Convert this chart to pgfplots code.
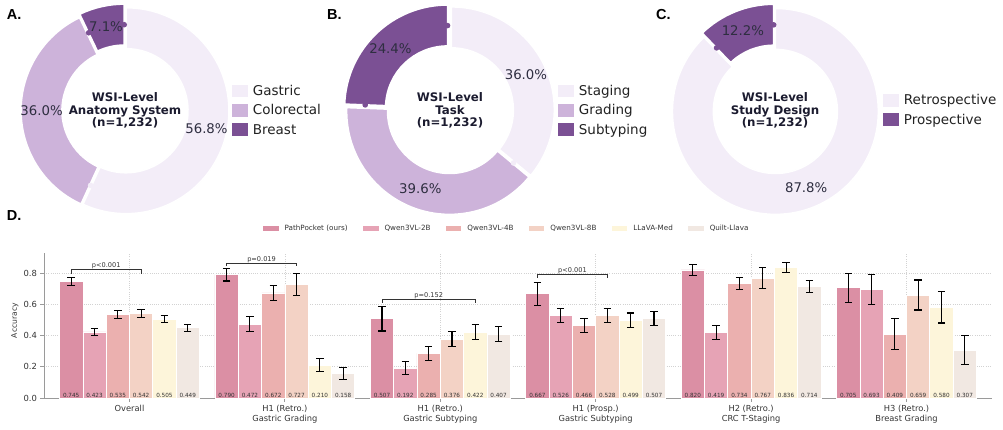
\documentclass[border=0pt]{standalone}
\usepackage{fontspec}
\setmainfont{DejaVu Sans}
\newfontfamily\panelfont{Liberation Sans}
\usepackage{pgfplots}
\pgfplotsset{compat=1.18}
\usepackage{pgfplotstable}
\pgfkeys{/pgf/number format/assume math mode=true}

\newcommand\fs[2]{\fontsize{#1}{#2}\selectfont}

% donut palette
\definecolor{lavA}{HTML}{F3EDF8}
\definecolor{lavB}{HTML}{CDB3DA}
\definecolor{lavC}{HTML}{7B5094}
\definecolor{pcttext}{HTML}{2E2E40}
\definecolor{titletext}{HTML}{1B1B2F}
\definecolor{legtext}{HTML}{222222}
% bar palette
\definecolor{cPP}{HTML}{DB8FA4}
\definecolor{cQtwo}{HTML}{E6A3B5}
\definecolor{cQfour}{HTML}{EBB0AF}
\definecolor{cQeight}{HTML}{F3D2C5}
\definecolor{cLM}{HTML}{FDF5DA}
\definecolor{cQL}{HTML}{F1E8E2}
\definecolor{axgray}{HTML}{9A9A9A}
\definecolor{txt}{HTML}{333333}

% accuracy and error half-width per task (0 Overall ... 5 H3)
\pgfplotstableread{
x acc err
0 0.745 0.027
1 0.790 0.041
2 0.507 0.078
3 0.667 0.075
4 0.820 0.035
5 0.705 0.094
}\tblPP
\pgfplotstableread{
x acc err
0 0.423 0.022
1 0.472 0.049
2 0.192 0.040
3 0.526 0.045
4 0.419 0.045
5 0.693 0.095
}\tblQtwo
\pgfplotstableread{
x acc err
0 0.535 0.024
1 0.672 0.046
2 0.285 0.046
3 0.466 0.045
4 0.734 0.040
5 0.409 0.100
}\tblQfour
\pgfplotstableread{
x acc err
0 0.542 0.027
1 0.727 0.071
2 0.376 0.047
3 0.528 0.045
4 0.767 0.067
5 0.659 0.096
}\tblQeight
\pgfplotstableread{
x acc err
0 0.505 0.024
1 0.210 0.042
2 0.422 0.047
3 0.499 0.045
4 0.836 0.034
5 0.580 0.100
}\tblLM
\pgfplotstableread{
x acc err
0 0.449 0.023
1 0.158 0.037
2 0.407 0.048
3 0.507 0.045
4 0.714 0.040
5 0.307 0.095
}\tblQL

% ring geometry (pt)
\def\Ro{103}
\def\Ri{62}
\def\Rw{41}
\def\Rp{82.4}

% one ring segment: start angle, end angle, explode offset, colour
\newcommand\donutwedge[4]{%
  \pgfmathsetmacro\wmid{(#1+#2)/2}%
  \edef\wcmd{\noexpand\fill[#4, draw=white, line width=1.6pt]
    ([shift={(\wmid:#3pt)}]axis cs:0,0) ++(#1:\Ro pt)
    arc[start angle=#1, end angle=#2, radius=\Ro pt]
    -- ++(#2:-\Rw pt)
    arc[start angle=#2, end angle=#1, radius=\Ri pt] -- cycle;}%
  \wcmd}
% percentage label in the middle of a segment
\newcommand\donutlabel[4]{%
  \pgfmathsetmacro\wmid{(#1+#2)/2}%
  \pgfmathsetmacro\wrad{\Rp+#3}%
  \edef\wcmd{\noexpand\node[font=\noexpand\fs{13.3}{14}, text=pcttext, inner sep=0pt]
    at ([shift={(\wmid:\wrad pt)}]axis cs:0,0) {\unexpanded{#4}};}%
  \wcmd}
% small round knob on a segment boundary
\newcommand\donutdot[4]{%
  \edef\wcmd{\noexpand\fill[#4] ([shift={(#2:#3pt)}]axis cs:0,0) ++(#1:\Rp pt) circle[radius=2.8pt];}%
  \wcmd}

\tikzset{
  centretitle/.style={align=center, font=\bfseries\fs{11.8}{12.2}, text=titletext, inner sep=0pt},
  ptext/.style={anchor=south, inner sep=0pt, yshift=0.4pt, font=\fs{6.6}{7}, text=txt},
}
\pgfplotsset{
  donut/.style={hide axis, x=1pt, y=1pt, xmin=-112, xmax=112, ymin=-112, ymax=112,
    anchor=center, clip=false, legend cell align=left,
    legend style={draw=none, fill=none, inner sep=0pt, anchor=west,
      font=\fs{13.5}{15}, text=legtext, row sep=6.3pt,
      nodes={inner sep=0pt, text height=11.4pt, text depth=1.6pt},
      /tikz/every odd column/.style={column sep=5.6pt}}},
  donutleg/.style={legend image code/.code={\fill[#1] (0pt,-5.85pt) rectangle (15pt,5.85pt);}},
  accbar/.style 2 args={ybar, bar width=0.15, bar shift=#1, fill=#2, draw=white, line width=0.7pt,
    legend image code/.code={\fill[#2] (0pt,-2.4pt) rectangle (14.4pt,2.4pt);}},
  errbar/.style={forget plot, draw=none, mark=none,
    /pgfplots/error bars/y dir=both, /pgfplots/error bars/y explicit,
    /pgfplots/error bars/error bar style={draw=black, line width=1.1pt},
    /pgfplots/error bars/error mark options={rotate=90, draw=black, line width=1.1pt, mark size=3.7pt}},
  acclabel/.style={forget plot, draw=none, mark=none, point meta=explicit,
    nodes near coords={\pgfmathprintnumber[fixed,fixed zerofill,precision=3]{\pgfplotspointmeta}},
    nodes near coords style={anchor=south, inner sep=0.6pt, font=\fs{5.7}{6}, text=txt}},
  bracket/.style={forget plot, mark=none, txt, line width=0.9pt},
}

\begin{document}
\begin{tikzpicture}
% segment boundaries (clockwise from 12 o'clock)
\pgfmathsetmacro\Atot{56.8+36.0+7.1}
\pgfmathsetmacro\Aone{90-360*(56.8/\Atot)}
\pgfmathsetmacro\Atwo{\Aone-360*(36.0/\Atot)}
\pgfmathsetmacro\Btot{36.0+39.6+24.4}
\pgfmathsetmacro\Bone{90-360*(36.0/\Btot)}
\pgfmathsetmacro\Btwo{\Bone-360*(39.6/\Btot)}
\pgfmathsetmacro\Ctot{87.8+12.2}
\pgfmathsetmacro\Cone{90-360*(87.8/\Ctot)}

% ---------------- A: anatomy system
\begin{axis}[donut, at={(125pt,318.5pt)},
  legend style={at={(axis description cs:0.9763,0.5022)}}]
  \donutwedge{90}{\Aone}{1}{lavA}
  \donutwedge{\Aone}{\Atwo}{1}{lavB}
  \donutwedge{\Atwo}{-270}{3.5}{lavC}
  \pgfmathsetmacro\mA{(\Atwo-270)/2}
  \donutdot{90}{\mA}{3.5}{lavC}
  \donutdot{\Atwo}{\mA}{3.5}{lavC}
  \donutdot{\Aone}{0}{0}{lavA}
  \donutlabel{90}{\Aone}{1}{56.8\%}
  \donutlabel{\Aone}{\Atwo}{1}{36.0\%}
  \donutlabel{\Atwo}{-270}{3.5}{7.1\%}
  \node[centretitle] at (axis cs:0,0) {WSI-Level\\Anatomy System\\(n=1,232)};
  \addlegendimage{donutleg=lavA}\addlegendentry{Gastric}
  \addlegendimage{donutleg=lavB}\addlegendentry{Colorectal}
  \addlegendimage{donutleg=lavC}\addlegendentry{Breast}
\end{axis}

% ---------------- B: task
\begin{axis}[donut, at={(450pt,318.5pt)},
  legend style={at={(axis description cs:0.9808,0.5022)}}]
  \donutwedge{90}{\Bone}{1.5}{lavA}
  \donutwedge{\Bone}{\Btwo}{1}{lavB}
  \donutwedge{\Btwo}{-270}{3.5}{lavC}
  \pgfmathsetmacro\mB{(\Btwo-270)/2}
  \donutdot{90}{\mB}{3.5}{lavC}
  \donutdot{\Btwo}{\mB}{3.5}{lavC}
  \donutdot{\Bone}{0}{0}{lavA}
  \donutlabel{90}{\Bone}{1.5}{36.0\%}
  \donutlabel{\Bone}{\Btwo}{1}{39.6\%}
  \donutlabel{\Btwo}{-270}{3.5}{24.4\%}
  \node[centretitle] at (axis cs:0,0) {WSI-Level\\Task\\(n=1,232)};
  \addlegendimage{donutleg=lavA}\addlegendentry{Staging}
  \addlegendimage{donutleg=lavB}\addlegendentry{Grading}
  \addlegendimage{donutleg=lavC}\addlegendentry{Subtyping}
\end{axis}

% ---------------- C: study design
\begin{axis}[donut, at={(775pt,318.5pt)},
  legend style={at={(axis description cs:0.9808,0.5038)}}]
  \donutwedge{90}{\Cone}{1}{lavA}
  \donutwedge{\Cone}{-270}{3.5}{lavC}
  \pgfmathsetmacro\mC{(\Cone-270)/2}
  \donutdot{90}{\mC}{3.5}{lavC}
  \donutdot{\Cone}{\mC}{3.5}{lavC}
  \donutlabel{90}{\Cone}{1}{87.8\%}
  \donutlabel{\Cone}{-270}{3.5}{12.2\%}
  \node[centretitle] at (axis cs:0,0) {WSI-Level\\Study Design\\(n=1,232)};
  \addlegendimage{donutleg=lavA}\addlegendentry{Retrospective}
  \addlegendimage{donutleg=lavC}\addlegendentry{Prospective}
\end{axis}

% ---------------- D: accuracy per task
\begin{axis}[at={(44pt,31pt)}, anchor=south west, scale only axis,
  width=948pt, height=144.7pt,
  xmin=-0.55, xmax=5.55, ymin=0, ymax=0.926,
  axis x line*=bottom, axis y line*=left,
  axis line style={axgray, line width=1pt},
  tick style={axgray, line width=0.8pt}, major tick length=3.5pt, tick align=outside,
  xtick={0,1,2,3,4,5},
  xticklabels={Overall, {H1 (Retro.)\\Gastric Grading}, {H1 (Retro.)\\Gastric Subtyping},
    {H1 (Prosp.)\\Gastric Subtyping}, {H2 (Retro.)\\CRC T-Staging}, {H3 (Retro.)\\Breast Grading}},
  xticklabel style={align=center, font=\fs{8.3}{10}, text=txt},
  ytick={0,0.2,0.4,0.6,0.8},
  yticklabel style={/pgf/number format/fixed, /pgf/number format/fixed zerofill,
    /pgf/number format/precision=1, font=\fs{8.4}{9}, text=txt},
  ylabel={Accuracy},
  every axis y label/.style={at={([xshift=-29pt,yshift=5pt]axis description cs:0,0.5)},
    rotate=90, anchor=center, font=\fs{7.6}{8}, text=txt},
  grid=major, grid style={gray!35, line width=0.6pt, dash pattern=on 0.8pt off 1.4pt},
  legend columns=6,
  legend style={at={(axis description cs:0.2310,1.1728)}, anchor=west, draw=none, fill=none,
    inner sep=0pt, font=\fs{7.2}{8}, text=txt,
    nodes={inner sep=0pt, text height=5.7pt, text depth=0.5pt},
    /tikz/every odd column/.style={column sep=6.3pt},
    /tikz/every even column/.style={column sep=15.5pt}},
]
\addplot[accbar={-0.375}{cPP}] table[x=x, y=acc] {\tblPP};
\addlegendentry{PathPocket (ours)}
\addplot[accbar={-0.225}{cQtwo}] table[x=x, y=acc] {\tblQtwo};
\addlegendentry{Qwen3VL-2B}
\addplot[accbar={-0.075}{cQfour}] table[x=x, y=acc] {\tblQfour};
\addlegendentry{Qwen3VL-4B}
\addplot[accbar={0.075}{cQeight}] table[x=x, y=acc] {\tblQeight};
\addlegendentry{Qwen3VL-8B}
\addplot[accbar={0.225}{cLM}] table[x=x, y=acc] {\tblLM};
\addlegendentry{LLaVA-Med}
\addplot[accbar={0.375}{cQL}] table[x=x, y=acc] {\tblQL};
\addlegendentry{Quilt-Llava}

% error bars centred on each bar
\addplot[errbar] table[x expr=\thisrow{x}-0.375, y=acc, y error=err] {\tblPP};
\addplot[errbar] table[x expr=\thisrow{x}-0.225, y=acc, y error=err] {\tblQtwo};
\addplot[errbar] table[x expr=\thisrow{x}-0.075, y=acc, y error=err] {\tblQfour};
\addplot[errbar] table[x expr=\thisrow{x}+0.075, y=acc, y error=err] {\tblQeight};
\addplot[errbar] table[x expr=\thisrow{x}+0.225, y=acc, y error=err] {\tblLM};
\addplot[errbar] table[x expr=\thisrow{x}+0.375, y=acc, y error=err] {\tblQL};

% values printed at the foot of each bar
\addplot[acclabel] table[x expr=\thisrow{x}-0.375, y expr=0, meta=acc] {\tblPP};
\addplot[acclabel] table[x expr=\thisrow{x}-0.225, y expr=0, meta=acc] {\tblQtwo};
\addplot[acclabel] table[x expr=\thisrow{x}-0.075, y expr=0, meta=acc] {\tblQfour};
\addplot[acclabel] table[x expr=\thisrow{x}+0.075, y expr=0, meta=acc] {\tblQeight};
\addplot[acclabel] table[x expr=\thisrow{x}+0.225, y expr=0, meta=acc] {\tblLM};
\addplot[acclabel] table[x expr=\thisrow{x}+0.375, y expr=0, meta=acc] {\tblQL};

% significance brackets
\addplot[bracket] coordinates {(-0.375,0.796) (-0.375,0.821) (0.075,0.821) (0.075,0.796)};
\node[ptext] at (axis cs:-0.15,0.821) {p<0.001};
\addplot[bracket] coordinates {(0.625,0.843) (0.625,0.864) (1.075,0.864) (1.075,0.843)};
\node[ptext] at (axis cs:0.85,0.864) {p=0.019};
\addplot[bracket] coordinates {(1.625,0.608) (1.625,0.633) (2.225,0.633) (2.225,0.608)};
\node[ptext] at (axis cs:1.925,0.633) {p=0.152};
\addplot[bracket] coordinates {(2.625,0.768) (2.625,0.789) (3.075,0.789) (3.075,0.768)};
\node[ptext] at (axis cs:2.85,0.789) {p<0.001};
\end{axis}

% panel letters
\begin{scope}[every node/.style={anchor=base west, inner sep=0pt, font=\panelfont\bfseries\fs{14.5}{15}}]
\node at (6.7pt,409pt) {A.};
\node at (327pt,409pt) {B.};
\node at (656pt,409pt) {C.};
\node at (6.7pt,208.5pt) {D.};
\end{scope}

\pgfresetboundingbox
\path[use as bounding box] (0pt,0pt) rectangle (1003pt,429pt);
\end{tikzpicture}
\end{document}
